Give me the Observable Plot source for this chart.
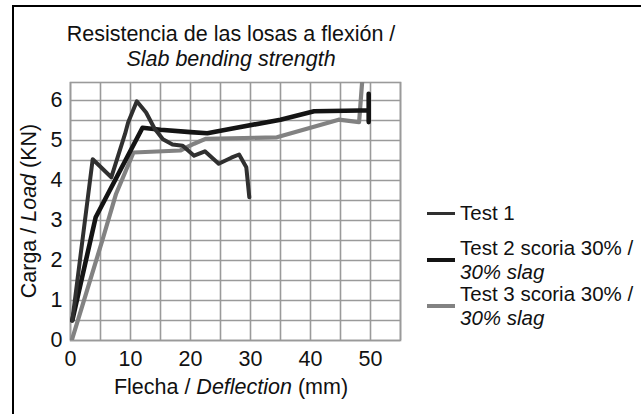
<!DOCTYPE html>
<html>
<head>
<meta charset="utf-8">
<script src="https://cdn.jsdelivr.net/npm/d3@7"></script>
<script src="https://cdn.jsdelivr.net/npm/@observablehq/plot@0.6"></script>
<style>
  html, body { margin: 0; padding: 0; background: #fff; }
  #wrap { position: relative; width: 641px; height: 414px; overflow: hidden; font-family: "Liberation Sans", Arial, sans-serif; color: #111; }
  #chart { position: absolute; left: 0; top: 0; }
  .frame { position: absolute; left: 12px; top: 5px; width: 700px; height: 500px; border: 2.5px solid #000; box-sizing: border-box; }
  .t { position: absolute; font-size: 21.5px; line-height: 21px; white-space: nowrap; }
  .lg { font-size: 20.5px; line-height: 24px; }
  .c { transform: translateX(-50%); text-align: center; }
  .sw { position: absolute; left: 427px; width: 28px; }
</style>
</head>
<body>
<div id="wrap">
  <div class="frame"></div>
  <div id="chart"></div>
  <div class="t c" style="left:231px; top:22px; line-height:25px;">Resistencia de las losas a flexión /<br><i>Slab bending strength</i></div>
  <div class="t c" style="left:231px; top:377px;">Flecha / <i>Deflection</i> (mm)</div>
  <div class="t" style="left:29px; top:211px; transform: translate(-50%,-50%) rotate(-90deg);">Carga / <i>Load</i> (KN)</div>
  <div id="legend"></div>
</div>
<script>
// Test 1
const test1X = [0.3, 3.7, 6.8, 9.1, 9.6, 11.05, 12.6, 14.0, 15.4, 17.0, 18.7, 20.6, 22.4, 24.7, 26.8, 28.1, 29.3, 29.8];
const test1Y = [0.5, 4.53, 4.08, 5.17, 5.45, 5.98, 5.7, 5.3, 5.03, 4.9, 4.87, 4.62, 4.73, 4.42, 4.57, 4.65, 4.33, 3.58];
// Test 2 scoria 30%
const test2X = [0.3, 4.2, 12.0, 15.0, 20.0, 22.8, 27.0, 35.0, 40.6, 48.3, 49.7, 49.7, 49.7];
const test2Y = [0.5, 3.08, 5.32, 5.27, 5.21, 5.18, 5.3, 5.52, 5.73, 5.75, 5.75, 6.17, 5.46];
// Test 3 scoria 30%
const test3X = [0.2, 5.3, 7.6, 10.5, 18.3, 20.6, 22.5, 34.4, 44.7, 48.1, 48.6];
const test3Y = [0.0, 2.5, 3.67, 4.7, 4.75, 4.92, 5.04, 5.08, 5.52, 5.46, 6.45];

const xTicks = [0, 10, 20, 30, 40, 50];
const yTicks = [0, 1, 2, 3, 4, 5, 6];
const xGrid = [0, 5, 10, 15, 20, 25, 30, 35, 40, 45, 50, 55];
const yGrid = [0, 0.5, 1, 1.5, 2, 2.5, 3, 3.5, 4, 4.5, 5, 5.5, 6];

const seriesNames = ["Test 1", "Test 2 scoria 30% /", "Test 3 scoria 30% /"];
const seriesSub = ["", "30% slag", "30% slag"];
const seriesColors = ["#303030", "#141414", "#828282"];
const seriesWidths = [4, 4.6, 4.2];

const toRows = (xs, ys) => xs.map((x, i) => ({x, y: ys[i]}));
const rows = [toRows(test1X, test1Y), toRows(test2X, test2Y), toRows(test3X, test3Y)];

const gridColor = "#9a9a9a";
const plot = Plot.plot({
  width: 641,
  height: 414,
  marginLeft: 70,
  marginRight: 241,
  marginTop: 82,
  marginBottom: 74,
  style: {fontFamily: '"Liberation Sans", Arial, sans-serif', background: "transparent", color: "#111"},
  x: {domain: [0, 55]},
  y: {domain: [0, 6.45]},
  marks: [
    Plot.ruleX(xGrid, {stroke: gridColor, strokeWidth: 1.6}),
    Plot.ruleY(yGrid, {stroke: gridColor, strokeWidth: 1.6}),
    Plot.frame({stroke: gridColor, strokeWidth: 1.6}),
    Plot.axisX({ticks: xTicks, tickFormat: d => String(d), tickSize: 0, tickPadding: 10, fontSize: 21.5, label: null, fill: "#111"}),
    Plot.axisY({ticks: yTicks, tickFormat: d => String(d), tickSize: 0, tickPadding: 8, fontSize: 21.5, label: null, fill: "#111"}),
    Plot.line(rows[2], {x: "x", y: "y", stroke: seriesColors[2], strokeWidth: seriesWidths[2], clip: true}),
    Plot.line(rows[1], {x: "x", y: "y", stroke: seriesColors[1], strokeWidth: seriesWidths[1], clip: true}),
    Plot.line(rows[0], {x: "x", y: "y", stroke: seriesColors[0], strokeWidth: seriesWidths[0], clip: true})
  ]
});
document.getElementById("chart").appendChild(plot);

// Legend
const legend = document.getElementById("legend");
const centers = [213, 260, 306];
const swW = [3, 4, 3.5];
seriesNames.forEach((name, i) => {
  const cy = centers[i];
  const sw = document.createElement("div");
  sw.className = "sw";
  sw.style.top = (cy - swW[i] / 2) + "px";
  sw.style.height = swW[i] + "px";
  sw.style.background = seriesColors[i];
  legend.appendChild(sw);
  const a = document.createElement("div");
  a.className = "t lg";
  a.style.left = "460px";
  if (seriesSub[i]) {
    a.style.top = (cy - 24) + "px";
    a.innerHTML = name + "<br><i>" + seriesSub[i] + "</i>";
  } else {
    a.style.top = (cy - 12) + "px";
    a.textContent = name;
  }
  legend.appendChild(a);
});
</script>
</body>
</html>
